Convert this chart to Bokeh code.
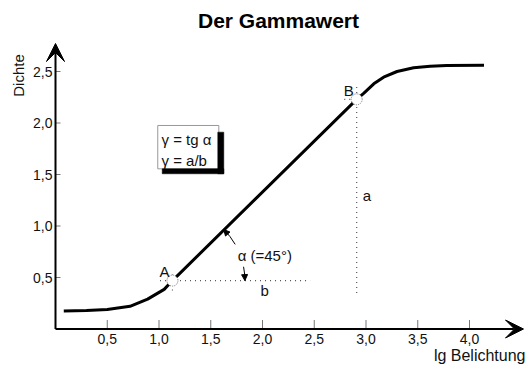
import math
from bokeh.plotting import figure
from bokeh.models import Arrow, VeeHead, NormalHead, Label, Range1d
from bokeh.core.properties import value
from bokeh.embed import file_html
from bokeh.resources import INLINE

# ---------------- data ----------------
title_text = "Der Gammawert"
x_label = "lg Belichtung"
y_label = "Dichte"
x_ticks = [0.5, 1.0, 1.5, 2.0, 2.5, 3.0, 3.5, 4.0]
y_ticks = [0.5, 1.0, 1.5, 2.0, 2.5]
x_tick_labels = ["0,5", "1,0", "1,5", "2,0", "2,5", "3,0", "3,5", "4,0"]
y_tick_labels = ["0,5", "1,0", "1,5", "2,0", "2,5"]

curve_x = [0.08, 0.30, 0.50, 0.72, 0.89, 1.05, 1.13,
           2.91, 2.98, 3.075, 3.17, 3.30, 3.46, 3.62, 3.78, 4.14]
curve_y = [0.175, 0.18, 0.19, 0.22, 0.29, 0.385, 0.47,
           2.23, 2.29, 2.38, 2.445, 2.50, 2.536, 2.55, 2.558, 2.561]

point_names = ["A", "B"]
point_x = [1.13, 2.91]
point_y = [0.47, 2.23]

b_end_x = 2.46        # end of the dotted "b" line
a_end_y = 0.345       # lower end of the dotted "a" line
formula_lines = ["γ = tg α", "γ = a/b"]
angle_text = "α (=45°)"
angle_deg = 45

# ---------------- layout ----------------
FIG_W, FIG_H = 527, 367
PX_X, PX_Y = 103.5, 103.0          # pixels per data unit
OX, OY = 55.0, 328.5               # pixel position of the origin
x0 = -OX / PX_X
x1 = (FIG_W - OX) / PX_X
y0 = -(FIG_H - OY) / PX_Y
y1 = OY / PX_Y

p = figure(width=FIG_W, height=FIG_H, output_backend="svg", toolbar_location=None,
           x_range=Range1d(x0, x1), y_range=Range1d(y0, y1),
           x_axis_type=None, y_axis_type=None,
           min_border_left=0, min_border_bottom=0, min_border_top=0, min_border_right=0)
p.outline_line_color = None
p.xgrid.grid_line_color = None
p.ygrid.grid_line_color = None
p.background_fill_color = "white"
p.border_fill_color = "white"

FONT = "Liberation Sans"
TXT = "#111111"

# ticks (drawn from the tick arrays)
p.segment(x0=x_ticks, y0=[0] * len(x_ticks), x1=x_ticks, y1=[9 / PX_Y] * len(x_ticks),
          line_color="#777777", line_width=1)
p.segment(x0=[0] * len(y_ticks), y0=y_ticks, x1=[5 / PX_X] * len(y_ticks), y1=y_ticks,
          line_color="#777777", line_width=1)
p.text(x=x_ticks, y=[-10 / PX_Y] * len(x_ticks), text=x_tick_labels,
       text_align="center", text_baseline="middle", text_font=value(FONT),
       text_font_size="14px", text_color=TXT)
p.text(x=[-3 / PX_X] * len(y_ticks), y=y_ticks, text=y_tick_labels,
       text_align="right", text_baseline="middle", text_font=value(FONT),
       text_font_size="14px", text_color=TXT)

# axes with arrows
p.add_layout(Arrow(x_start=0, y_start=0, x_end=(523 - OX) / PX_X, y_end=0,
                   line_width=2, line_color="black",
                   end=VeeHead(size=18, fill_color="black", line_color="black")))
p.add_layout(Arrow(x_start=0, y_start=0, x_end=0, y_end=(OY - 43) / PX_Y,
                   line_width=2, line_color="black",
                   end=VeeHead(size=18, fill_color="black", line_color="black")))

# dotted helper lines
ax_, ay_ = point_x[0], point_y[0]
bx_, by_ = point_x[1], point_y[1]
dot = dict(line_color="#555555", line_width=1.2, line_dash="1 4")
p.segment(x0=[ax_ - 0.12, ax_, bx_, bx_ - 0.12],
          y0=[ay_, ay_ + 0.06, by_ + 0.12, by_],
          x1=[b_end_x, ax_, bx_, bx_ + 0.04],
          y1=[ay_, ay_ - 0.12, a_end_y, by_], **dot)

# characteristic curve
p.line(curve_x, curve_y, line_width=3, line_color="black")

# points A and B
p.scatter(point_x, point_y, size=11, fill_color="white", line_color="#777777",
          line_width=1, line_dash="1 1")
for n, xx, yy in zip(point_names, point_x, point_y):
    p.add_layout(Label(x=xx, y=yy, x_offset=-8, y_offset=9, text=n, text_align="center",
                       text_baseline="middle", text_font=FONT, text_font_size="15px",
                       text_color=TXT))

# angle arc
r = 0.70
p.arc(x=[ax_, ax_], y=[ay_, ay_], radius=r,
      start_angle=[math.radians(30), 0], end_angle=[math.radians(angle_deg), math.radians(11)],
      line_color="black", line_width=1)
for a_from, a_to in ((40, angle_deg), (6, 0)):
    p.add_layout(Arrow(x_start=ax_ + r * math.cos(math.radians(a_from)),
                       y_start=ay_ + r * math.sin(math.radians(a_from)),
                       x_end=ax_ + r * math.cos(math.radians(a_to)),
                       y_end=ay_ + r * math.sin(math.radians(a_to)),
                       line_width=1, line_color="black",
                       end=NormalHead(size=6, fill_color="black", line_color="black")))
p.add_layout(Label(x=ax_ + 0.63, y=ay_ + 0.245, text=angle_text, text_align="left",
                   text_baseline="middle", text_font=FONT, text_font_size="15px",
                   text_color=TXT))

# a and b labels
p.add_layout(Label(x=bx_ + 0.10, y=(ay_ + by_) / 2 - 0.05, text="a", text_align="center",
                   text_baseline="middle", text_font=FONT, text_font_size="15px",
                   text_color=TXT))
p.add_layout(Label(x=(ax_ + bx_) / 2, y=ay_ - 0.10, text="b", text_align="center",
                   text_baseline="middle", text_font=FONT, text_font_size="15px",
                   text_color=TXT))

# formula box
p.quad(left=[0.988], right=[1.578], top=[1.976], bottom=[1.555],
       fill_color="white", line_color="#999999", line_width=1)
p.quad(left=[1.568, 1.031], right=[1.626, 1.626], top=[1.911, 1.555], bottom=[1.507, 1.507],
       fill_color="black", line_color="black", line_width=0.5)
for i, t in enumerate(formula_lines):
    p.add_layout(Label(x=1.024, y=1.837 - i * 0.201, text=t, text_align="left",
                       text_baseline="middle", text_font=FONT, text_font_size="15px",
                       text_color=TXT))

# title and axis labels
p.add_layout(Label(x=(278 - OX) / PX_X, y=(OY - 20) / PX_Y, text=title_text,
                   text_align="center", text_baseline="middle", text_font=FONT,
                   text_font_size="21px", text_font_style="bold", text_color="black"))
p.add_layout(Label(x=(18 - OX) / PX_X, y=(OY - 75) / PX_Y, text=y_label, angle=math.pi / 2,
                   text_align="center", text_baseline="middle", text_font=FONT,
                   text_font_size="15px", text_color=TXT))
p.add_layout(Label(x=(525 - OX) / PX_X, y=(OY - 355) / PX_Y, text=x_label,
                   text_align="right", text_baseline="middle", text_font=FONT,
                   text_font_size="16px", text_color=TXT))

open("out.html", "w").write(file_html(p, INLINE))
